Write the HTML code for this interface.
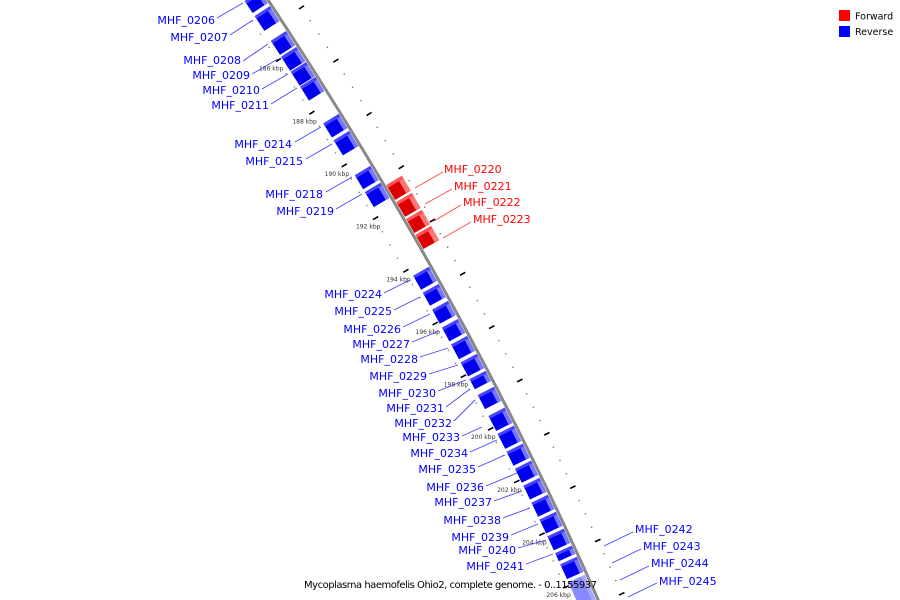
<!DOCTYPE html>
<html><head><meta charset="utf-8"><style>
html,body{margin:0;padding:0;background:#fff}
svg{display:block}
text{font-family:"DejaVu Sans","Liberation Sans",sans-serif}
</style></head><body>
<svg id="map" width="900" height="600" viewBox="0 0 900 600" xmlns="http://www.w3.org/2000/svg">
<g id="ticks"></g>
<path id="backbone" fill="none" stroke="#888" stroke-width="3"/>
<g id="genes"></g>
<g id="labels"></g>
<g>
<rect x="839" y="10" width="11" height="11" fill="#f00"/>
<text x="855" y="19.5" font-size="9.5" fill="#000">Forward</text>
<rect x="839" y="26" width="11" height="11" fill="#00f"/>
<text x="855" y="35" font-size="9.5" fill="#000">Reverse</text>
</g>
<text x="304" y="588" font-size="10" textLength="293" fill="#000">Mycoplasma haemofelis Ohio2, complete genome. - 0..1155937</text>
</svg>
<script>
// gene data (kbp)
const geneNames = ["MHF_0206","MHF_0207","MHF_0208","MHF_0209","MHF_0210","MHF_0211","MHF_0214","MHF_0215","MHF_0218","MHF_0219","MHF_0220","MHF_0221","MHF_0222","MHF_0223","MHF_0224","MHF_0225","MHF_0226","MHF_0227","MHF_0228","MHF_0229","MHF_0230","MHF_0231","MHF_0232","MHF_0233","MHF_0234","MHF_0235","MHF_0236","MHF_0237","MHF_0238","MHF_0239","MHF_0240","MHF_0241","MHF_0242x"];
const geneStart = [183.85,184.42,185.36,185.96,186.53,187.09,188.49,189.13,190.45,191.09,191.25,191.89,192.53,193.13,194.26,194.91,195.55,196.23,196.87,197.55,198.19,198.79,199.58,200.26,200.94,201.58,202.23,202.87,203.51,204.15,204.79,205.21,205.89];
const geneEnd = [184.30,184.98,185.89,186.49,187.06,187.62,189.02,189.70,190.98,191.66,191.81,192.45,193.06,193.66,194.79,195.40,196.08,196.75,197.43,198.08,198.57,199.32,200.15,200.83,201.47,202.11,202.75,203.40,204.04,204.68,205.09,205.77,207.25];
const geneStrand = [-1,-1,-1,-1,-1,-1,-1,-1,-1,-1,1,1,1,1,-1,-1,-1,-1,-1,-1,-1,-1,-1,-1,-1,-1,-1,-1,-1,-1,-1,-1,-2];
const tickKbp = [186,188,190,192,194,196,198,200,202,204,206];
// label layout: [text, x, y, anchor, lineX1, lineY1, lineX2, lineY2, color]
const labelText = ["MHF_0206","MHF_0207","MHF_0208","MHF_0209","MHF_0210","MHF_0211","MHF_0214","MHF_0215","MHF_0218","MHF_0219","MHF_0220","MHF_0221","MHF_0222","MHF_0223","MHF_0224","MHF_0225","MHF_0226","MHF_0227","MHF_0228","MHF_0229","MHF_0230","MHF_0231","MHF_0232","MHF_0233","MHF_0234","MHF_0235","MHF_0236","MHF_0237","MHF_0238","MHF_0239","MHF_0240","MHF_0241","MHF_0242","MHF_0243","MHF_0244","MHF_0245"];

const ns="http://www.w3.org/2000/svg";
function X(y){return 268+0.6607*y-0.000184*y*y;}
function dX(y){return 0.6607-0.000368*y;}
function Y(k){return 47+(k-186)*26.5;}
function pt(k,off){const y=Y(k);const d=dX(y);const n=Math.sqrt(1+d*d);return [X(y)+off/n, y-off*d/n];}
function mk(tag,attrs,parent){const e=document.createElementNS(ns,tag);for(const a in attrs)e.setAttribute(a,attrs[a]);parent.appendChild(e);return e;}

// backbone
let d="";for(let y=-10;y<=610;y+=5){d+=(y===-10?"M":"L")+X(y).toFixed(1)+","+y+" ";}
document.getElementById("backbone").setAttribute("d",d);

const tg=document.getElementById("ticks");
for(let k=183.5;k<=207.5;k+=0.25){
  const major=Math.abs(k-Math.round(k))<0.01;
  // outer dotted scale
  const [ox,oy]=pt(k,24);
  if(major && Math.round(k)%2===1){const a=pt(k,21),b=pt(k,27);const l=mk("line",{x1:a[0],y1:a[1],x2:b[0],y2:b[1],stroke:"#000","stroke-width":1.6},tg);}
  else if(Math.abs(k*2-Math.round(k*2))<0.01){const c=mk("circle",{cx:ox,cy:oy,r:0.8,fill:"#777"},tg);}
  // inner dots
  if(Math.abs(k*2-Math.round(k*2))<0.01 && !(major&&Math.round(k)%2===0)){const [ix,iy]=pt(k,-25);const c=mk("circle",{cx:ix,cy:iy,r:0.8,fill:"#888"},tg);}
}
tickKbp.forEach(k=>{
  const a=pt(k,-27),b=pt(k,-21);
  const l=mk("line",{x1:a[0],y1:a[1],x2:b[0],y2:b[1],stroke:"#000","stroke-width":1.6},tg);
  
  const t=mk("text",{x:a[0]-17,y:a[1]+9,"font-size":6,fill:"#333","font-family":"Liberation Serif, serif"},tg);
  t.textContent=k+" kbp";
  
});

const gg=document.getElementById("genes");
function quad(k1,k2,o1,o2){const a=pt(k1,o1),b=pt(k2,o1),c=pt(k2,o2),e=pt(k1,o2);return [a,b,c,e].map(p=>p[0].toFixed(1)+","+p[1].toFixed(1)).join(" ");}
geneNames.forEach((nm,i)=>{
  const s=geneStart[i],e=geneEnd[i],st=geneStrand[i];
  const g=mk("g",{},gg);
  
  
  if(st===1){
    mk("polygon",{points:quad(s,e,2,20),fill:"#dd0000"},g);
    mk("polygon",{points:quad(s,e,15,20),fill:"#ff7777"},g);
    mk("polygon",{points:quad(s,s+0.1,2,20),fill:"#ff5555"},g);
  } else if(st===-1){
    mk("polygon",{points:quad(s,e,-20,-2),fill:"#0000ee"},g);
    mk("polygon",{points:quad(s,e,-6,-2),fill:"#7777ff"},g);
    mk("polygon",{points:quad(s,s+0.1,-20,-2),fill:"#4444ff"},g);
  } else {
    mk("polygon",{points:quad(s,e,-20,-2),fill:"#8888ff"},g);
    mk("polygon",{points:quad(s,e,-6,-2),fill:"#aaaaff"},g);
  }
});

const labelX=[215,228,241,250,260,269,292,303,323,334,444,454,463,473,382,392,401,410,418,427,436,444,452,460,468,476,484,492,501,509,516,524,635,643,651,659];
const labelY=[24,41,64,79,94,109,148,165,198,215,173,190,206,223,298,315,333,348,363,380,397,412,427,441,457,473,491,506,524,541,554,570,533,550,567,585];
const lineA=[[217,18,243,3],[230,35,253,20],[243,61,268,44],[252,74,278,59],[262,89,288,74],[271,104,297,88],[295,142,321,127],[306,159,332,144],[326,192,352,177],[336,209,362,194],[415,188,443,172],[425,204,452,189],[434,221,461,205],[443,238,471,222],[384,293,410,280],[394,310,420,297],[403,327,430,314],[412,342,439,331],[420,357,448,348],[429,374,458,365],[438,391,466,380],[446,407,470,389],[454,421,475,400],[462,436,482,427],[470,452,497,440],[478,467,505,455],[486,486,517,473],[494,501,522,491],[503,518,530,508],[511,535,538,524],[518,548,546,540],[526,564,553,554],[604,546,633,532],[612,563,641,549],[620,580,649,566],[628,597,657,583]];
const lg=document.getElementById("labels");
labelText.forEach((t,i)=>{
  const red=(i>=10&&i<=13), right=(i>=10&&i<=13)||i>=32;
  const c=red?"#ff0000":"#0000ff";
  const L=lineA[i];
  const ln=mk("line",{x1:L[0],y1:L[1],x2:L[2],y2:L[3],stroke:red?"#ff4444":"#4444ff","stroke-width":0.9},lg);
  
  const tx=mk("text",{x:labelX[i],y:labelY[i],"font-size":11,fill:c,"text-anchor":right?"start":"end"},lg);
  tx.textContent=t;
  
});
</script>
</body></html>
